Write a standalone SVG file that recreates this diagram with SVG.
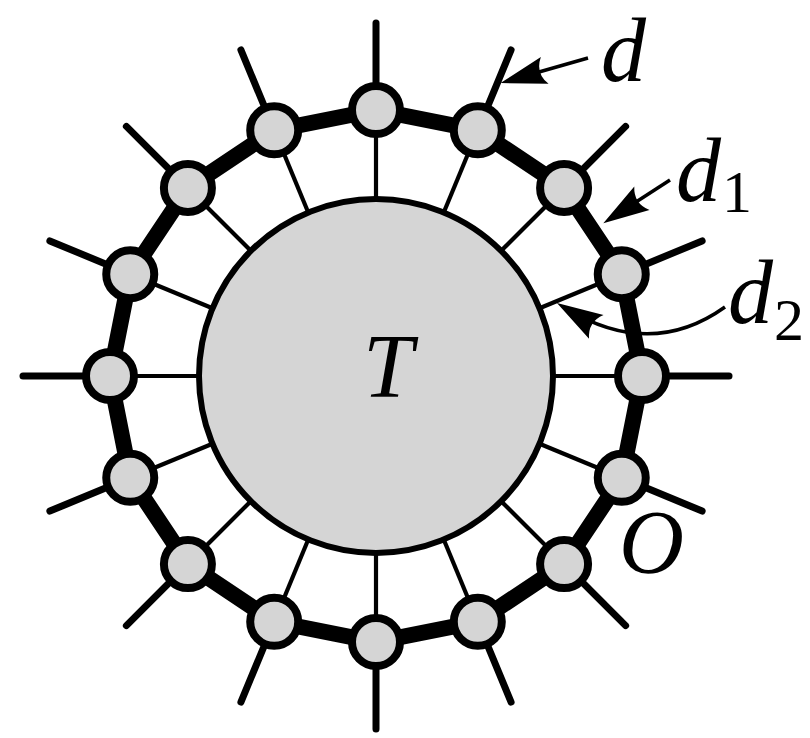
<svg xmlns="http://www.w3.org/2000/svg" width="810" height="738" viewBox="0 0 810 738">
<style>
.inner{stroke:#000;stroke-width:4.2;stroke-linecap:butt}
.outer{stroke:#000;stroke-width:7;stroke-linecap:round}
.ring{fill:none;stroke:#000;stroke-width:16;stroke-linejoin:round}
.big{fill:#d5d5d5;stroke:#000;stroke-width:6}
.node{fill:#d5d5d5;stroke:#000;stroke-width:8}
.arrow{fill:none;stroke:#000;stroke-width:3.5}
.lbl{font-family:"Liberation Serif","Times New Roman",serif;font-style:italic;font-size:90px;fill:#000}
.sub{font-family:"Liberation Serif","Times New Roman",serif;font-style:normal;font-size:60px;fill:#000}
</style>
<defs>
<marker id="ah" markerUnits="userSpaceOnUse" markerWidth="60" markerHeight="40" refX="0" refY="0" orient="auto" overflow="visible">
<path d="M10,0 L-36,-14 Q-26,0 -36,14 Z" fill="#000"/>
</marker>
</defs>
<rect width="810" height="738" fill="#fff"/>
<g id="connectors">
<line class="inner" x1="376" y1="199" x2="376" y2="110"/>
<line class="inner" x1="443.73" y1="212.47" x2="477.79" y2="130.25"/>
<line class="inner" x1="501.16" y1="250.84" x2="564.09" y2="187.91"/>
<line class="inner" x1="539.53" y1="308.27" x2="621.75" y2="274.21"/>
<line class="inner" x1="553" y1="376" x2="642" y2="376"/>
<line class="inner" x1="539.53" y1="443.73" x2="621.75" y2="477.79"/>
<line class="inner" x1="501.16" y1="501.16" x2="564.09" y2="564.09"/>
<line class="inner" x1="443.73" y1="539.53" x2="477.79" y2="621.75"/>
<line class="inner" x1="376" y1="553" x2="376" y2="642"/>
<line class="inner" x1="308.27" y1="539.53" x2="274.21" y2="621.75"/>
<line class="inner" x1="250.84" y1="501.16" x2="187.91" y2="564.09"/>
<line class="inner" x1="212.47" y1="443.73" x2="130.25" y2="477.79"/>
<line class="inner" x1="199" y1="376" x2="110" y2="376"/>
<line class="inner" x1="212.47" y1="308.27" x2="130.25" y2="274.21"/>
<line class="inner" x1="250.84" y1="250.84" x2="187.91" y2="187.91"/>
<line class="inner" x1="308.27" y1="212.47" x2="274.21" y2="130.25"/>
<line class="outer" x1="376" y1="110" x2="376" y2="23"/>
<line class="outer" x1="477.79" y1="130.25" x2="511.09" y2="49.87"/>
<line class="outer" x1="564.09" y1="187.91" x2="625.61" y2="126.39"/>
<line class="outer" x1="621.75" y1="274.21" x2="702.13" y2="240.91"/>
<line class="outer" x1="642" y1="376" x2="729" y2="376"/>
<line class="outer" x1="621.75" y1="477.79" x2="702.13" y2="511.09"/>
<line class="outer" x1="564.09" y1="564.09" x2="625.61" y2="625.61"/>
<line class="outer" x1="477.79" y1="621.75" x2="511.09" y2="702.13"/>
<line class="outer" x1="376" y1="642" x2="376" y2="729"/>
<line class="outer" x1="274.21" y1="621.75" x2="240.91" y2="702.13"/>
<line class="outer" x1="187.91" y1="564.09" x2="126.39" y2="625.61"/>
<line class="outer" x1="130.25" y1="477.79" x2="49.87" y2="511.09"/>
<line class="outer" x1="110" y1="376" x2="23" y2="376"/>
<line class="outer" x1="130.25" y1="274.21" x2="49.87" y2="240.91"/>
<line class="outer" x1="187.91" y1="187.91" x2="126.39" y2="126.39"/>
<line class="outer" x1="274.21" y1="130.25" x2="240.91" y2="49.87"/>
<polygon class="ring" points="376,110 477.79,130.25 564.09,187.91 621.75,274.21 642,376 621.75,477.79 564.09,564.09 477.79,621.75 376,642 274.21,621.75 187.91,564.09 130.25,477.79 110,376 130.25,274.21 187.91,187.91 274.21,130.25"/>
<line class="arrow" x1="588" y1="58" x2="510.1" y2="80.3" marker-end="url(#ah)"/>
<line class="arrow" x1="670" y1="180" x2="611.7" y2="217.8" marker-end="url(#ah)"/>
<path class="arrow" d="M725,307 Q651,360 565.5,308.2" marker-end="url(#ah)"/>
</g>
<g id="T">
<circle class="big" cx="376" cy="376" r="177"/>
<text class="lbl" x="388" y="397" text-anchor="middle">T</text>
</g>
<g id="n0"><circle class="node" cx="376" cy="110" r="24"/></g>
<g id="n1"><circle class="node" cx="477.79" cy="130.25" r="24"/></g>
<g id="n2"><circle class="node" cx="564.09" cy="187.91" r="24"/></g>
<g id="n3"><circle class="node" cx="621.75" cy="274.21" r="24"/></g>
<g id="n4"><circle class="node" cx="642" cy="376" r="24"/></g>
<g id="n5"><circle class="node" cx="621.75" cy="477.79" r="24"/></g>
<g id="n6"><circle class="node" cx="564.09" cy="564.09" r="24"/></g>
<g id="n7"><circle class="node" cx="477.79" cy="621.75" r="24"/></g>
<g id="n8"><circle class="node" cx="376" cy="642" r="24"/></g>
<g id="n9"><circle class="node" cx="274.21" cy="621.75" r="24"/></g>
<g id="n10"><circle class="node" cx="187.91" cy="564.09" r="24"/></g>
<g id="n11"><circle class="node" cx="130.25" cy="477.79" r="24"/></g>
<g id="n12"><circle class="node" cx="110" cy="376" r="24"/></g>
<g id="n13"><circle class="node" cx="130.25" cy="274.21" r="24"/></g>
<g id="n14"><circle class="node" cx="187.91" cy="187.91" r="24"/></g>
<g id="n15"><circle class="node" cx="274.21" cy="130.25" r="24"/></g>
<g id="labels">
<text class="lbl" x="601" y="81">d</text>
<text x="676" y="201"><tspan class="lbl">d</tspan><tspan class="sub" x="722" y="212">1</tspan></text>
<text x="728" y="323"><tspan class="lbl">d</tspan><tspan class="sub" x="774" y="340">2</tspan></text>
<text class="lbl" x="619" y="573">O</text>
</g>
</svg>
